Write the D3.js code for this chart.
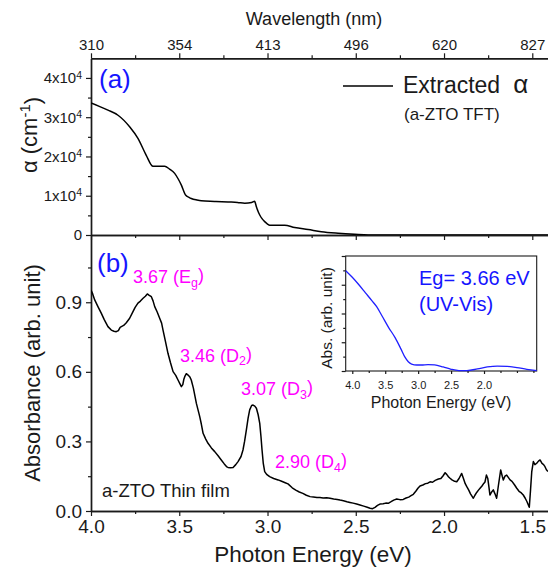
<!DOCTYPE html>
<html><head><meta charset="utf-8">
<script src="https://cdn.jsdelivr.net/npm/d3@7"></script>
<style>
body{margin:0;background:#fff}
svg{display:block}
text{font-family:"Liberation Sans",Arial,Helvetica,sans-serif;fill:#1a1a1a}
</style>
</head><body>
<svg id="c" width="548" height="567"></svg>
<script>
// ---------- data ----------
// (a) extracted absorption coefficient alpha (cm^-1) vs photon energy (eV)
const alphaE = [4.0,3.95,3.904,3.847,3.78,3.734,3.687,3.649,3.62,3.583,3.555,3.526,3.505,3.488,3.463,3.445,3.432,3.40,3.375,3.30,3.224,3.17,3.129,3.09,3.073,3.068,3.063,3.055,3.044,3.03,3.016,3.0,2.988,2.95,2.903,2.846,2.77,2.695,2.60,2.506,2.43,2.2,1.9,1.6,1.411];
const alphaV = [33600,32700,31800,30500,27500,24600,20300,17500,17500,17500,16800,15700,14200,12700,10100,9600,9300,8900,8700,8550,8400,8300,8100,8300,8600,8000,7200,6200,5100,4100,3400,2800,2500,2500,2500,1900,1400,850,450,170,0,0,0,0,0];

// (b) absorbance of a-ZTO thin film (arb. unit)
const absE = [4.000,3.990,3.979,3.960,3.942,3.925,3.904,3.885,3.870,3.857,3.845,3.835,3.828,3.815,3.800,3.781,3.765,3.750,3.734,3.720,3.705,3.692,3.681,3.670,3.658,3.648,3.639,3.625,3.611,3.600,3.592,3.578,3.564,3.550,3.535,3.520,3.507,3.496,3.488,3.480,3.474,3.469,3.460,3.450,3.440,3.432,3.420,3.403,3.390,3.384,3.375,3.365,3.350,3.337,3.318,3.299,3.280,3.262,3.245,3.230,3.224,3.210,3.195,3.180,3.167,3.150,3.139,3.130,3.120,3.110,3.101,3.090,3.082,3.072,3.063,3.053,3.044,3.037,3.031,3.024,3.016,3.005,2.988,2.965,2.940,2.920,2.900,2.884,2.860,2.840,2.820,2.800,2.780,2.759,2.740,2.720,2.703,2.685,2.665,2.646,2.625,2.605,2.589,2.570,2.550,2.533,2.515,2.495,2.476,2.455,2.435,2.419,2.405,2.391,2.377,2.363,2.345,2.330,2.316,2.300,2.285,2.268,2.250,2.231,2.215,2.200,2.187,2.174,2.160,2.148,2.136,2.120,2.105,2.092,2.079,2.065,2.050,2.032,2.018,2.005,1.994,1.985,1.975,1.966,1.955,1.940,1.928,1.915,1.900,1.890,1.880,1.871,1.860,1.850,1.840,1.834,1.825,1.815,1.805,1.796,1.785,1.775,1.768,1.760,1.752,1.745,1.740,1.730,1.721,1.712,1.702,1.692,1.679,1.670,1.664,1.655,1.645,1.636,1.626,1.615,1.600,1.588,1.575,1.562,1.551,1.540,1.530,1.517,1.510,1.503,1.494,1.485,1.475,1.465,1.456,1.445,1.436,1.428,1.420,1.411];
const absV = [0.953,0.935,0.910,0.880,0.853,0.825,0.795,0.780,0.775,0.773,0.778,0.792,0.795,0.800,0.812,0.831,0.855,0.878,0.896,0.905,0.917,0.926,0.936,0.930,0.924,0.905,0.881,0.858,0.831,0.810,0.780,0.730,0.680,0.640,0.601,0.585,0.565,0.548,0.536,0.545,0.568,0.579,0.592,0.586,0.578,0.565,0.530,0.464,0.425,0.407,0.375,0.335,0.310,0.292,0.272,0.256,0.238,0.220,0.203,0.190,0.188,0.186,0.188,0.200,0.213,0.235,0.263,0.300,0.349,0.400,0.436,0.455,0.457,0.452,0.443,0.415,0.378,0.320,0.263,0.205,0.170,0.158,0.148,0.140,0.134,0.128,0.122,0.117,0.100,0.090,0.082,0.076,0.068,0.062,0.060,0.058,0.058,0.056,0.057,0.055,0.052,0.050,0.047,0.044,0.040,0.037,0.034,0.030,0.026,0.021,0.016,0.012,0.010,0.016,0.024,0.030,0.031,0.034,0.033,0.040,0.047,0.052,0.049,0.050,0.056,0.060,0.066,0.072,0.085,0.098,0.108,0.112,0.118,0.120,0.126,0.124,0.132,0.138,0.140,0.152,0.165,0.158,0.148,0.141,0.134,0.128,0.126,0.140,0.162,0.140,0.118,0.105,0.090,0.074,0.062,0.055,0.068,0.080,0.090,0.098,0.108,0.119,0.125,0.155,0.140,0.100,0.069,0.082,0.091,0.075,0.055,0.110,0.177,0.150,0.134,0.150,0.155,0.145,0.134,0.128,0.112,0.098,0.085,0.078,0.069,0.055,0.040,0.016,0.090,0.170,0.213,0.200,0.206,0.215,0.220,0.205,0.200,0.191,0.178,0.170];

// inset: UV-Vis absorbance
const insetE = [4.10,4.00,3.90,3.80,3.70,3.63,3.55,3.45,3.35,3.26,3.20,3.15,3.10,3.02,2.95,2.85,2.75,2.62,2.50,2.38,2.26,2.10,1.95,1.80,1.65,1.50,1.35,1.20];
const insetV = [0.872,0.815,0.750,0.680,0.610,0.559,0.480,0.380,0.290,0.190,0.120,0.080,0.060,0.052,0.052,0.055,0.053,0.035,0.015,0.004,0.004,0.018,0.035,0.043,0.040,0.030,0.015,0.004];

// ticks & labels
const energyTicks = [4.0,3.5,3.0,2.5,2.0,1.5];
const energyMinor = [3.75,3.25,2.75,2.25,1.75];
const alphaTicks = [0,10000,20000,30000,40000];
const alphaMinor = [5000,15000,25000,35000];
const absTicks = [0.0,0.3,0.6,0.9];
const absMinor = [0.15,0.45,0.75,1.05];
const insetXTicks = [4.0,3.5,3.0,2.5,2.0];
const insetXMinor = [3.75,3.25,2.75,2.25,1.75,1.5,1.25];
const insetYTicks = [0,0.25,0.5,0.75,1.0];
const insetYMinor = [0.125,0.375,0.625,0.875];
const peakValues = ["3.67","3.46","3.07","2.90"];
const peakLetters = ["E","D","D","D"];
const peakSubs = ["g","2","3","4"];

// ---------- layout ----------
const svg = d3.select("#c");
const L = 91, R = 548, T = 58.3, M = 235, B = 511;
const x = d3.scaleLinear().domain([4.0, 1.411]).range([L, R]);
const yA = d3.scaleLinear().domain([0, 45000]).range([M, T]);
const yB = d3.scaleLinear().domain([0, 1.19]).range([B, M]);
const INK = "#1a1a1a";

svg.append("defs").append("clipPath").attr("id","clipA")
  .append("rect").attr("x",L).attr("y",T).attr("width",R-L).attr("height",M-T);
svg.select("defs").append("clipPath").attr("id","clipB")
  .append("rect").attr("x",L).attr("y",M).attr("width",R-L).attr("height",B-M);

function styleAxis(g, fs){
  g.selectAll("path.domain").attr("stroke",INK).attr("stroke-width",1.4);
  g.selectAll(".tick line").attr("stroke",INK).attr("stroke-width",1.2);
  g.selectAll("text").attr("font-size",fs).attr("fill",INK)
    .attr("font-family",'"Liberation Sans",Arial,sans-serif');
}

// top wavelength axis
const gTop = svg.append("g").attr("transform",`translate(0,${T})`)
  .call(d3.axisTop(x).tickValues(energyTicks).tickFormat(d=>Math.round(1240/d)).tickSize(5).tickSizeOuter(0).tickPadding(3));
styleAxis(gTop, 15);
const gTopMin = svg.append("g").attr("transform",`translate(0,${T})`)
  .call(d3.axisTop(x).tickValues(energyMinor).tickFormat("").tickSize(3).tickSizeOuter(0));
styleAxis(gTopMin, 15);

// middle axis (bottom of panel a)
const gMid = svg.append("g").attr("transform",`translate(0,${M})`)
  .call(d3.axisBottom(x).tickValues(energyTicks).tickFormat("").tickSize(5).tickSizeOuter(0));
styleAxis(gMid, 15);
const gMidMin = svg.append("g").attr("transform",`translate(0,${M})`)
  .call(d3.axisBottom(x).tickValues(energyMinor).tickFormat("").tickSize(3).tickSizeOuter(0));
styleAxis(gMidMin, 15);

// bottom axis
const gBot = svg.append("g").attr("transform",`translate(0,${B})`)
  .call(d3.axisBottom(x).tickValues(energyTicks).tickFormat(d3.format(".1f")).tickSize(5).tickSizeOuter(0).tickPadding(4));
styleAxis(gBot, 19);
const gBotMin = svg.append("g").attr("transform",`translate(0,${B})`)
  .call(d3.axisBottom(x).tickValues(energyMinor).tickFormat("").tickSize(3).tickSizeOuter(0));
styleAxis(gBotMin, 19);

// left axis panel a
const gLA = svg.append("g").attr("transform",`translate(${L},0)`)
  .call(d3.axisLeft(yA).tickValues(alphaTicks).tickSize(5).tickSizeOuter(0).tickPadding(4));
styleAxis(gLA, 15);
gLA.selectAll(".tick text").each(function(d){
  const t = d3.select(this); t.text(null);
  if (d === 0) { t.text("0"); return; }
  t.append("tspan").text((d/10000) + "x10");
  t.append("tspan").attr("dy","-0.45em").attr("font-size","10.5px").text("4");
});
const gLAm = svg.append("g").attr("transform",`translate(${L},0)`)
  .call(d3.axisLeft(yA).tickValues(alphaMinor).tickFormat("").tickSize(3).tickSizeOuter(0));
styleAxis(gLAm, 15);

// left axis panel b
const gLB = svg.append("g").attr("transform",`translate(${L},0)`)
  .call(d3.axisLeft(yB).tickValues(absTicks).tickFormat(d3.format(".1f")).tickSize(5).tickSizeOuter(0).tickPadding(4));
styleAxis(gLB, 19);
const gLBm = svg.append("g").attr("transform",`translate(${L},0)`)
  .call(d3.axisLeft(yB).tickValues(absMinor).tickFormat("").tickSize(3).tickSizeOuter(0));
styleAxis(gLBm, 19);

// curves
const lineA = d3.line().x((d,i)=>x(alphaE[i])).y((d,i)=>yA(alphaV[i])).curve(d3.curveMonotoneX);
svg.append("path").datum(alphaE).attr("clip-path","url(#clipA)")
  .attr("d",lineA).attr("fill","none").attr("stroke","#000").attr("stroke-width",1.5);

const lineB = d3.line().x((d,i)=>x(absE[i])).y((d,i)=>yB(absV[i]));
svg.append("path").datum(absE).attr("clip-path","url(#clipB)")
  .attr("d",lineB).attr("fill","none").attr("stroke","#000").attr("stroke-width",1.5)
  .attr("stroke-linejoin","round");

// axis titles
svg.append("text").attr("x",314).attr("y",25).attr("text-anchor","middle").attr("font-size",18).text("Wavelength (nm)");
svg.append("text").attr("x",313).attr("y",562).attr("text-anchor","middle").attr("font-size",22.5).text("Photon Energy (eV)");
const ta = svg.append("text").attr("transform","translate(37,135) rotate(-90)").attr("text-anchor","middle").attr("font-size",22);
ta.append("tspan").text("\u03b1 (cm");
ta.append("tspan").attr("dy","-0.45em").attr("font-size","15px").text("-1");
ta.append("tspan").attr("dy","0.45em").text(")");
svg.append("text").attr("transform","translate(40,373) rotate(-90)").attr("text-anchor","middle").attr("font-size",22).text("Absorbance (arb. unit)");

// panel labels
svg.append("text").attr("x",99).attr("y",88).attr("font-size",26).style("fill","#1515ff").text("(a)");
svg.append("text").attr("x",97).attr("y",272).attr("font-size",26).style("fill","#1515ff").text("(b)");

// legend
svg.append("line").attr("x1",343).attr("x2",393).attr("y1",86).attr("y2",86).attr("stroke","#000").attr("stroke-width",1.5);
const lg = svg.append("text").attr("x",403).attr("y",93).attr("font-size",23);
lg.append("tspan").text("Extracted");
lg.append("tspan").attr("dx",13).attr("font-size",26).text("\u03b1");
svg.append("text").attr("x",404).attr("y",120).attr("font-size",17).text("(a-ZTO TFT)");

// peak annotations
const peakPos = [[133,283],[180,361.5],[241,395],[275,468]];
peakValues.forEach((v,i)=>{
  const t = svg.append("text").attr("x",peakPos[i][0]).attr("y",peakPos[i][1]).attr("font-size",18).style("fill","#ff00ff");
  t.append("tspan").style("fill","#ff00ff").text(v + " (" + peakLetters[i]);
  t.append("tspan").style("fill","#ff00ff").attr("dy","0.3em").attr("font-size","12.5px").text(peakSubs[i]);
  t.append("tspan").style("fill","#ff00ff").attr("dy","-0.3em").text(")");
});
svg.append("text").attr("x",102).attr("y",497).attr("font-size",18.5).text("a-ZTO Thin film");

// ---------- inset ----------
const IL = 345.7, IR = 536.7, IT = 256, IB = 371;
const xi = d3.scaleLinear().domain([4.1, 1.2]).range([IL, IR]);
const yi = d3.scaleLinear().domain([0, 1]).range([IB, IT]);
svg.append("rect").attr("x",IL).attr("y",IT).attr("width",IR-IL).attr("height",IB-IT)
  .attr("fill","#fff").attr("stroke",INK).attr("stroke-width",1.1);
const gIX = svg.append("g").attr("transform",`translate(0,${IB})`)
  .call(d3.axisBottom(xi).tickValues(insetXTicks).tickFormat(d3.format(".1f")).tickSize(3).tickSizeOuter(0).tickPadding(7));
styleAxis(gIX, 11);
gIX.select("path.domain").remove();
const gIXm = svg.append("g").attr("transform",`translate(0,${IB})`)
  .call(d3.axisBottom(xi).tickValues(insetXMinor).tickFormat("").tickSize(2).tickSizeOuter(0));
styleAxis(gIXm, 11);
gIXm.select("path.domain").remove();
const gIY = svg.append("g").attr("transform",`translate(${IL},0)`)
  .call(d3.axisLeft(yi).tickValues(insetYTicks).tickFormat("").tickSize(4).tickSizeOuter(0));
styleAxis(gIY, 11);
gIY.select("path.domain").remove();
const gIYm = svg.append("g").attr("transform",`translate(${IL},0)`)
  .call(d3.axisLeft(yi).tickValues(insetYMinor).tickFormat("").tickSize(2.5).tickSizeOuter(0));
styleAxis(gIYm, 11);
gIYm.select("path.domain").remove();

const lineI = d3.line().x((d,i)=>xi(insetE[i])).y((d,i)=>yi(insetV[i])).curve(d3.curveMonotoneX);
svg.append("path").datum(insetE).attr("d",lineI).attr("fill","none").attr("stroke","#1f1fff").attr("stroke-width",1.3);

svg.append("text").attr("x",441).attr("y",408).attr("text-anchor","middle").attr("font-size",16).text("Photon Energy (eV)");
svg.append("text").attr("transform","translate(332,318) rotate(-90)").attr("text-anchor","middle").attr("font-size",15.5).text("Abs. (arb. unit)");
svg.append("text").attr("x",419).attr("y",285).attr("font-size",20).style("fill","#1515ff").text("Eg= 3.66 eV");
svg.append("text").attr("x",419).attr("y",311).attr("font-size",20).style("fill","#1515ff").text("(UV-Vis)");
</script>
</body></html>
